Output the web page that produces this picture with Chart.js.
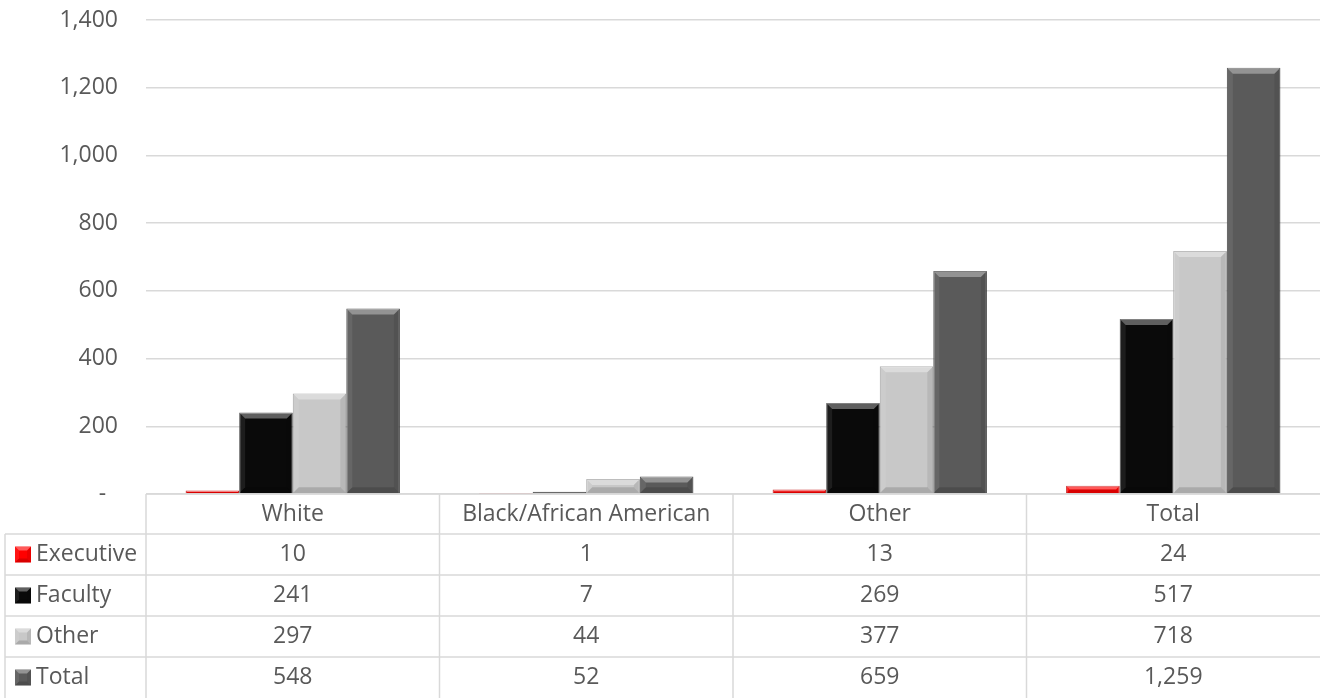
<!DOCTYPE html>
<html>
<head>
<meta charset="utf-8">
<script src="https://cdn.jsdelivr.net/npm/chart.js@4.4.1/dist/chart.umd.min.js"></script>
<style>
  html, body { margin: 0; padding: 0; background: #fff; }
  #wrap { width: 1320px; height: 698px; position: relative; }
</style>
</head>
<body>
<div id="wrap"><canvas id="chart"></canvas></div>
<script>
// datos del gráfico
const categories = ['White', 'Black/African American', 'Other', 'Total'];
const seriesNames = ['Executive', 'Faculty', 'Other', 'Total'];
const executive = [10, 1, 13, 24];
const faculty = [241, 7, 269, 517];
const other = [297, 44, 377, 718];
const total = [548, 52, 659, 1259];
const yMin = 0;
const yMax = 1400;
const yStep = 200;

const seriesValues = [executive, faculty, other, total];
const seriesColors = ['#ff0000', '#0a0a0a', '#c8c8c8', '#5a5a5a'];
const seriesBorders = ['#c00000', '#404040', '#9a9a9a', '#3a3a3a'];

const FONT = "'Open Sans', sans-serif";
const FONT_SIZE = 23;
const TEXT_COLOR = '#595959';
const LINE_COLOR = '#d9d9d9';

Chart.defaults.font.family = FONT;
Chart.defaults.color = TEXT_COLOR;

// ===== bisel estilo Excel =====
function drawBevel(ctx, l, t, r, b, size) {
    const w = r - l, h = b - t;
    const s = Math.min(size, w / 2, h / 2);
    if (s <= 0.5) return;
    ctx.save();
    // arriba
    ctx.fillStyle = 'rgba(255,255,255,0.35)';
    ctx.beginPath();
    ctx.moveTo(l, t); ctx.lineTo(r, t); ctx.lineTo(r - s, t + s); ctx.lineTo(l + s, t + s);
    ctx.closePath(); ctx.fill();
    // izquierda
    ctx.fillStyle = 'rgba(255,255,255,0.08)';
    ctx.beginPath();
    ctx.moveTo(l, t); ctx.lineTo(l + s, t + s); ctx.lineTo(l + s, b - s); ctx.lineTo(l, b);
    ctx.closePath(); ctx.fill();
    // derecha
    ctx.fillStyle = 'rgba(0,0,0,0.08)';
    ctx.beginPath();
    ctx.moveTo(r, t); ctx.lineTo(r - s, t + s); ctx.lineTo(r - s, b - s); ctx.lineTo(r, b);
    ctx.closePath(); ctx.fill();
    // abajo
    ctx.fillStyle = 'rgba(0,0,0,0.15)';
    ctx.beginPath();
    ctx.moveTo(l, b); ctx.lineTo(r, b); ctx.lineTo(r - s, b - s); ctx.lineTo(l + s, b - s);
    ctx.closePath(); ctx.fill();
    ctx.restore();
}

const bevelPlugin = {
    id: 'bevel',
    afterDatasetsDraw(chart) {
        const ctx = chart.ctx;
        chart.data.datasets.forEach((ds, i) => {
            const meta = chart.getDatasetMeta(i);
            meta.data.forEach(bar => {
                const p = bar.getProps(['x', 'y', 'base', 'width'], true);
                const l = p.x - p.width / 2, r = p.x + p.width / 2;
                drawBevel(ctx, l, Math.min(p.y, p.base), r, Math.max(p.y, p.base), 6);
            });
        });
    }
};

// ===== tabla de datos debajo del gráfico =====
const tablePlugin = {
    id: 'dataTable',
    afterDraw(chart) {
        const ctx = chart.ctx;
        const area = chart.chartArea;
        const xs = chart.scales.x;
        const n = categories.length;
        const catW = (area.right - area.left) / n;
        const top = area.bottom;
        const headerBottom = top + 40;
        const rowH = (chart.height - headerBottom) / seriesNames.length;
        const tableLeft = 5;

        ctx.save();
        ctx.strokeStyle = LINE_COLOR;
        ctx.lineWidth = 1.5;
        ctx.beginPath();
        // horizontales
        ctx.moveTo(area.left, top); ctx.lineTo(area.right, top);
        for (let r = 0; r < seriesNames.length; r++) {
            const y = headerBottom + r * rowH;
            ctx.moveTo(tableLeft, y); ctx.lineTo(area.right, y);
        }
        // verticales
        ctx.moveTo(tableLeft, headerBottom); ctx.lineTo(tableLeft, chart.height);
        for (let c = 0; c < n; c++) {
            const x = area.left + c * catW;
            ctx.moveTo(x, top); ctx.lineTo(x, chart.height);
        }
        ctx.stroke();

        ctx.font = FONT_SIZE + 'px ' + FONT;
        ctx.fillStyle = TEXT_COLOR;
        ctx.textBaseline = 'middle';
        ctx.textAlign = 'center';
        categories.forEach((cat, c) => {
            ctx.fillText(cat, xs.getPixelForValue(c), (top + headerBottom) / 2);
        });

        seriesNames.forEach((name, r) => {
            const cy = headerBottom + r * rowH + rowH / 2;
            // llave de la leyenda
            const k = 16;
            ctx.fillStyle = seriesColors[r];
            ctx.fillRect(15, cy - k / 2, k, k);
            drawBevel(ctx, 15, cy - k / 2, 15 + k, cy + k / 2, 4);
            ctx.fillStyle = TEXT_COLOR;
            ctx.textAlign = 'left';
            ctx.fillText(name, 36, cy);
            ctx.textAlign = 'center';
            seriesValues[r].forEach((v, c) => {
                ctx.fillText(v.toLocaleString('en-US'), xs.getPixelForValue(c), cy);
            });
        });
        ctx.restore();
    }
};

new Chart(document.getElementById('chart'), {
    type: 'bar',
    data: {
        labels: categories,
        datasets: seriesNames.map((name, i) => ({
            label: name,
            data: seriesValues[i],
            backgroundColor: seriesColors[i],
            borderColor: seriesBorders[i],
            borderWidth: 1,
            categoryPercentage: 0.73,
            barPercentage: 1.0
        }))
    },
    options: {
        responsive: true,
        maintainAspectRatio: false,
        animation: false,
        layout: { padding: { top: 20, right: 0, bottom: 204, left: 0 } },
        plugins: {
            legend: { display: false },
            tooltip: { enabled: false }
        },
        scales: {
            x: {
                display: false
            },
            y: {
                min: yMin,
                max: yMax,
                afterFit: function (scale) {
                    scale.width = 146;
                    scale.paddingTop = 0;
                    scale.paddingBottom = 0;
                },
                border: { display: false },
                grid: { color: LINE_COLOR, lineWidth: 1.5, drawTicks: false },
                ticks: {
                    stepSize: yStep,
                    padding: 28,
                    color: TEXT_COLOR,
                    font: { size: FONT_SIZE },
                    callback: function (value) {
                        return value === 0 ? '-  ' : value.toLocaleString('en-US');
                    }
                }
            }
        }
    },
    plugins: [bevelPlugin, tablePlugin]
});
</script>
</body>
</html>
